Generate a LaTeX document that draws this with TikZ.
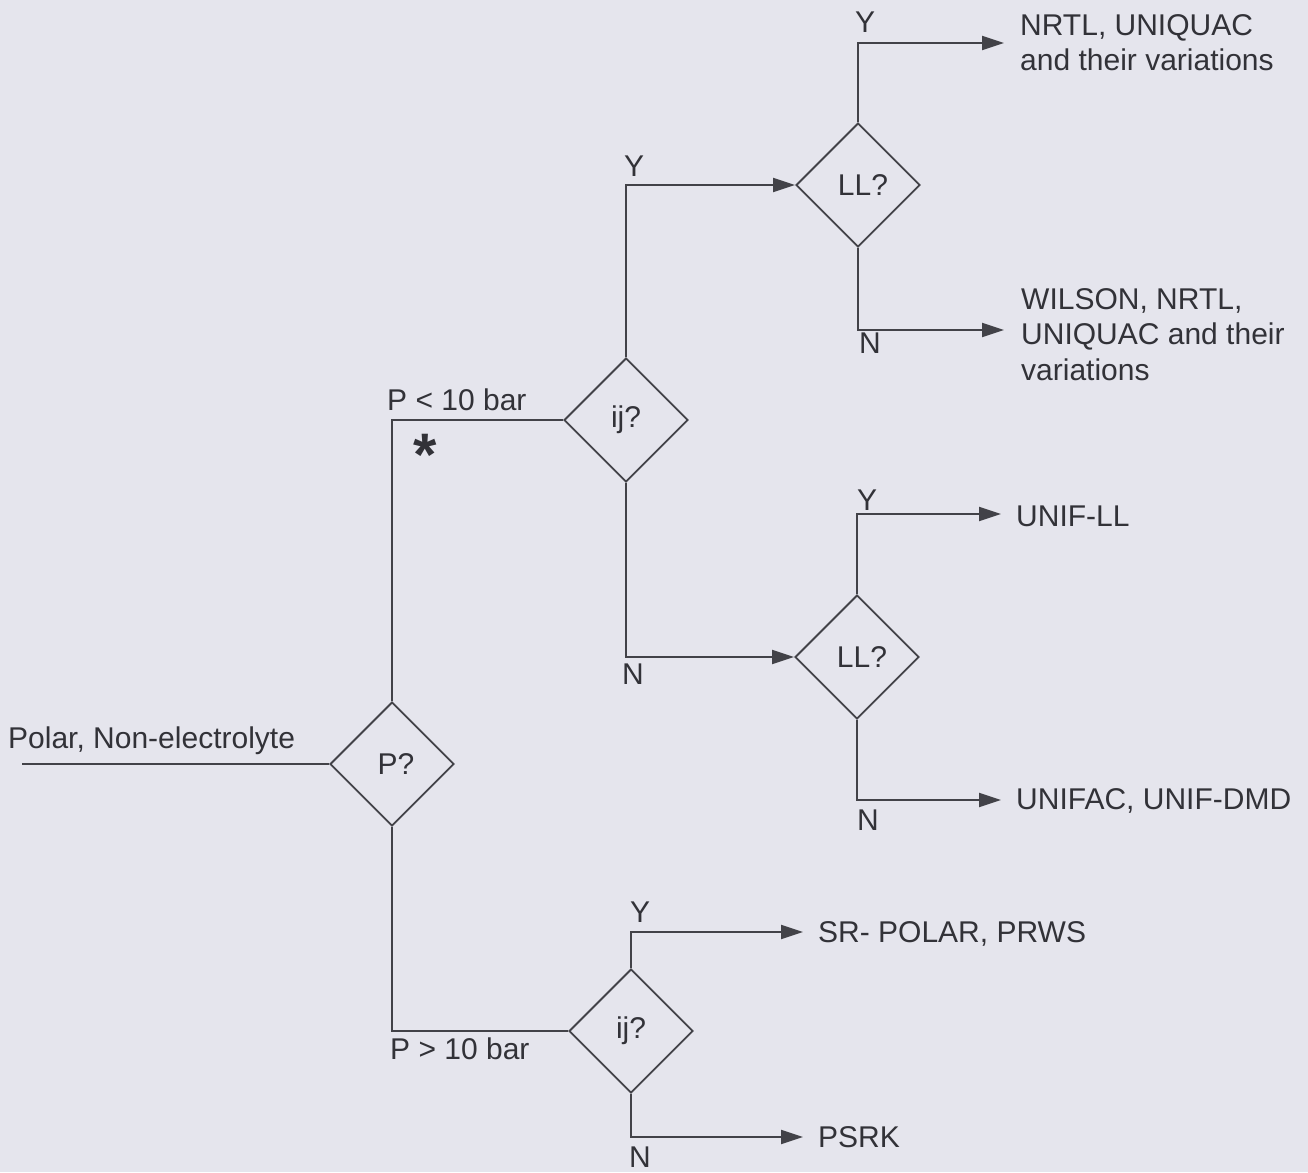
\documentclass[tikz,border=0pt]{standalone}
\usepackage{fontspec}
\setmainfont{Liberation Sans}
\usetikzlibrary{shapes.geometric,arrows.meta}
\definecolor{bg}{RGB}{229,229,237}
\definecolor{ink}{RGB}{66,66,72}
\definecolor{txt}{RGB}{50,50,56}
\begin{document}
\begin{tikzpicture}[x=1pt,y=-1pt,
  dec/.style={diamond, draw=ink, line width=1.9pt, minimum width=124pt, minimum height=124pt, inner sep=0pt, text=txt, font=\fontsize{30}{36}\selectfont},
  lbl/.style={text=txt, font=\fontsize{30}{36}\selectfont, inner sep=0pt, anchor=base west},
  blk/.style={text=txt, font=\fontsize{30}{35.5}\selectfont, inner sep=0pt, anchor=north west, align=left},
  yn/.style={text=txt, font=\fontsize{30}{36}\selectfont, inner sep=0pt, anchor=base},
  conn/.style={draw=ink, line width=1.9pt},
  arr/.style={conn, -{Triangle[length=22pt,width=14pt]}}]
\fill[bg] (0,0) rectangle (1308,1172);
\useasboundingbox (0,0) rectangle (1308,1172);

% decision nodes
\node[dec] (P) at (392,764) {\hspace{8pt}P?};
\node[dec] (IJ1) at (626,420) {ij?};
\node[dec] (LL1) at (858,185) {\hspace{10pt}LL?};
\node[dec] (LL2) at (857,657) {\hspace{10pt}LL?};
\node[dec] (IJ2) at (631,1031) {ij?};

% free ends
\coordinate (in) at (22,764);
\coordinate (o1) at (1004,43);
\coordinate (o2) at (1004,330);
\coordinate (o3) at (1001,514);
\coordinate (o4) at (1001,800);
\coordinate (o5) at (803,932);
\coordinate (o6) at (803,1137);

% connectors
\draw[conn] (in) -- (P.west);
\draw[conn] (P.north) |- (IJ1.west);
\draw[conn] (P.south) |- (IJ2.west);
\draw[arr] (IJ1.north) |- (LL1.west);
\draw[arr] (IJ1.south) |- (LL2.west);
\draw[arr] (LL1.north) |- (o1);
\draw[arr] (LL1.south) |- (o2);
\draw[arr] (LL2.north) |- (o3);
\draw[arr] (LL2.south) |- (o4);
\draw[arr] (IJ2.north) |- (o5);
\draw[arr] (IJ2.south) |- (o6);

% labels
\node[lbl] (tin) at (8,748) {Polar, Non-electrolyte};
\node[lbl] (tlo) at (387,410) {P < 10 bar};
\node[lbl] (thi) at (390,1059) {P > 10 bar};
\node[text=txt, font=\bfseries\fontsize{60}{60}\selectfont, inner sep=0pt, anchor=base] (star) at (425,475) {*};

\node[yn] (y1) at (634,176) {Y};
\node[yn] (n1) at (633,684) {N};
\node[yn] (y2) at (865,33) {Y};
\node[yn] (n2) at (870,353) {N};
\node[yn] (y3) at (867,510) {Y};
\node[yn] (n3) at (868,830) {N};
\node[yn] (y4) at (640,922) {Y};
\node[yn] (n4) at (640,1167) {N};

% outcomes
\node[blk] (r1) at (1020,14) {NRTL, UNIQUAC\\and their variations};
\node[blk] (r2) at (1021,288) {WILSON, NRTL,\\UNIQUAC and their\\variations};
\node[lbl] (r3) at (1016,526) {UNIF-LL};
\node[lbl] (r4) at (1016,809) {UNIFAC, UNIF-DMD};
\node[lbl] (r5) at (818,942) {SR- POLAR, PRWS};
\node[lbl] (r6) at (818,1147) {PSRK};
\end{tikzpicture}
\end{document}
